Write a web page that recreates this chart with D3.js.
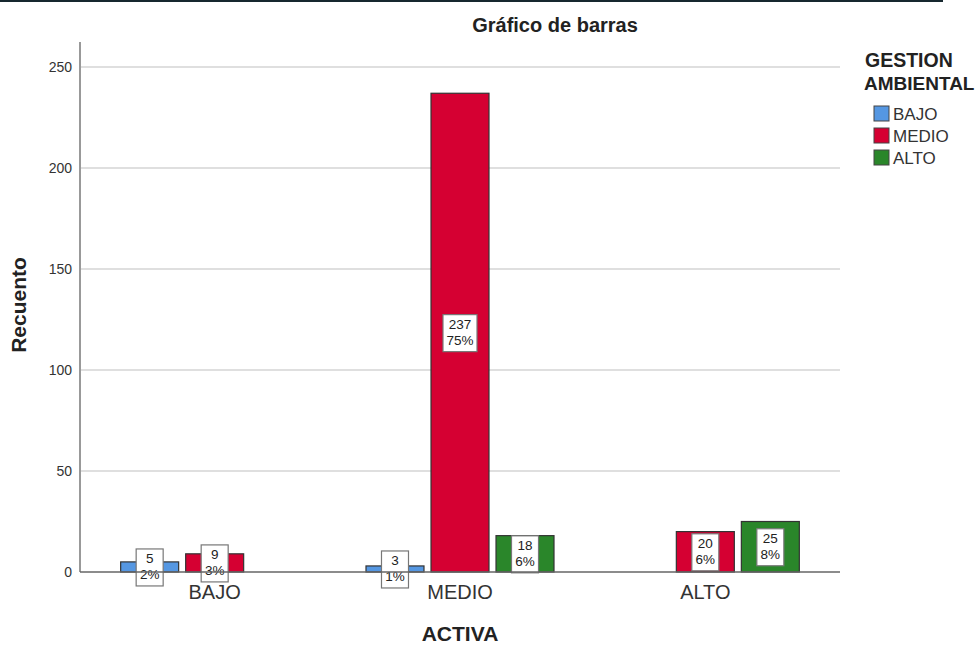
<!DOCTYPE html>
<html lang="es">
<head>
<meta charset="UTF-8">
<title>Gráfico de barras</title>
<script src="https://d3js.org/d3.v7.min.js"></script>
<style>
  body { margin: 0; background: #fff; }
  svg text { font-family: Arial, "Liberation Sans", sans-serif; }
</style>
</head>
<body>
<div id="chart"></div>
<script>
// categories on the x axis (ACTIVA) and the series (GESTION AMBIENTAL)
var categories = ["BAJO", "MEDIO", "ALTO"];
var series = ["BAJO", "MEDIO", "ALTO"];
var seriesColors = ["#5597e2", "#d50032", "#2a862a"];

// counts per category, one array per series
var bajoValues  = [5, 3, 0];
var medioValues = [9, 237, 20];
var altoValues  = [0, 18, 25];

var yTicks = [0, 50, 100, 150, 200, 250];

var width = 977, height = 646;
var plotLeft = 80, plotRight = 840, plotTop = 42, plotBottom = 572;

var svg = d3.select("#chart").append("svg")
  .attr("width", width)
  .attr("height", height);

// dark strip along the top
svg.append("rect").attr("x", 0).attr("y", 0).attr("width", 943).attr("height", 2).attr("fill", "#17282f");

var allSeries = [bajoValues, medioValues, altoValues];
var total = d3.sum(allSeries, function(s) { return d3.sum(s); });

var data = [];
categories.forEach(function(c, i) {
  series.forEach(function(s, j) {
    data.push({ cat: c, ser: s, idx: j, value: allSeries[j][i] });
  });
});

var x0 = d3.scaleBand().domain(categories).range([plotLeft + 12, plotRight - 12]);
var x1 = d3.scaleBand().domain(series).range([0, 188]).paddingInner(0.108);
var y = d3.scaleLinear().domain([0, 250]).range([plotBottom, 67]);

// gridlines
svg.append("g").selectAll("line")
  .data(yTicks.filter(function(t) { return t > 0; }))
  .enter().append("line")
  .attr("x1", plotLeft).attr("x2", plotRight)
  .attr("y1", function(d) { return y(d); })
  .attr("y2", function(d) { return y(d); })
  .attr("stroke", "#d4d4d4").attr("stroke-width", 1.5);

// y axis
var yAxis = svg.append("g")
  .attr("transform", "translate(" + plotLeft + ",0)")
  .call(d3.axisLeft(y).tickValues(yTicks).tickSize(0).tickPadding(8));
yAxis.select(".domain").remove();
yAxis.selectAll("text").attr("font-size", 14).attr("fill", "#333").attr("font-family", "Arial, 'Liberation Sans', sans-serif");
svg.append("line").attr("x1", plotLeft).attr("x2", plotLeft).attr("y1", plotTop).attr("y2", plotBottom)
  .attr("stroke", "#999").attr("stroke-width", 2);

// bars
var groupOffset = (x0.bandwidth() - 188) / 2;
var bars = svg.append("g").selectAll("g.bar")
  .data(data.filter(function(d) { return d.value > 0; }))
  .enter().append("g").attr("class", "bar");

bars.append("rect")
  .attr("x", function(d) { return x0(d.cat) + groupOffset + x1(d.ser); })
  .attr("y", function(d) { return y(d.value); })
  .attr("width", x1.bandwidth())
  .attr("height", function(d) { return y(0) - y(d.value); })
  .attr("fill", function(d) { return seriesColors[d.idx]; })
  .attr("stroke", "#333").attr("stroke-width", 1.2);

// x axis line
svg.append("line").attr("x1", plotLeft).attr("x2", plotRight).attr("y1", plotBottom).attr("y2", plotBottom)
  .attr("stroke", "#666").attr("stroke-width", 1.5);

// value labels
bars.each(function(d) {
  var g = d3.select(this);
  var cx = x0(d.cat) + groupOffset + x1(d.ser) + x1.bandwidth() / 2;
  var cy = (y(d.value) + y(0)) / 2;
  var pct = Math.round(d.value / total * 100) + "%";
  var t1 = g.append("text").attr("x", cx).attr("y", cy - 4).attr("text-anchor", "middle")
    .attr("font-size", 13.5).attr("fill", "#222").text(d.value);
  var t2 = g.append("text").attr("x", cx).attr("y", cy + 12).attr("text-anchor", "middle")
    .attr("font-size", 13.5).attr("fill", "#222").text(pct);
  var w = Math.max(t1.node().getBBox().width, t2.node().getBBox().width) + 7;
  w = Math.max(w, 27);
  g.insert("rect", "text")
    .attr("x", cx - w / 2).attr("y", cy - 18)
    .attr("width", w).attr("height", 37)
    .attr("fill", "#fff").attr("stroke", "#777").attr("stroke-width", 1.2);
});

// x axis labels
svg.append("g").selectAll("text")
  .data(categories).enter().append("text")
  .attr("x", function(d) { return x0(d) + x0.bandwidth() / 2; })
  .attr("y", 599)
  .attr("text-anchor", "middle")
  .attr("font-size", 20).attr("fill", "#333")
  .text(function(d) { return d; });

// titles
svg.append("text").attr("x", 555).attr("y", 32).attr("text-anchor", "middle")
  .attr("font-size", 20).attr("font-weight", "bold").attr("fill", "#222").text("Gráfico de barras");
svg.append("text").attr("x", 460).attr("y", 641).attr("text-anchor", "middle")
  .attr("font-size", 21).attr("font-weight", "bold").attr("fill", "#222").text("ACTIVA");
svg.append("text").attr("transform", "translate(26,305) rotate(-90)").attr("text-anchor", "middle")
  .attr("font-size", 21).attr("font-weight", "bold").attr("fill", "#222").text("Recuento");

// legend
var lg = svg.append("g");
lg.append("text").attr("x", 865).attr("y", 67)
  .attr("font-size", 19.5).attr("font-weight", "bold").attr("fill", "#222").text("GESTION");
lg.append("text").attr("x", 864).attr("y", 90)
  .attr("font-size", 19).attr("font-weight", "bold").attr("fill", "#222").text("AMBIENTAL");
var items = lg.selectAll("g.item").data(series).enter().append("g").attr("class", "item")
  .attr("transform", function(d, i) { return "translate(874," + (106 + i * 22) + ")"; });
items.append("rect").attr("width", 15).attr("height", 15)
  .attr("fill", function(d, i) { return seriesColors[i]; })
  .attr("stroke", "#444").attr("stroke-width", 1);
items.append("text").attr("x", 19).attr("y", 14).attr("font-size", 17).attr("fill", "#333")
  .text(function(d) { return d; });
</script>
</body>
</html>
